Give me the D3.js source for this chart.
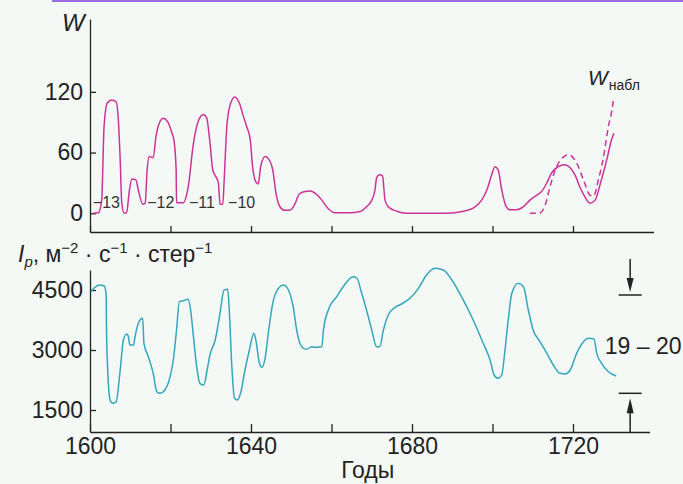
<!DOCTYPE html>
<html>
<head>
<meta charset="utf-8">
<script src="https://cdn.jsdelivr.net/npm/d3@7"></script>
<style>
  html, body { margin: 0; padding: 0; background: #f5f9f6; }
  svg { display: block; font-family: "Liberation Sans", Arial, sans-serif; }
  .axis path, .axis line { stroke: #222; stroke-width: 1.3; }
  .axis text { fill: #222; font-size: 23px; }
</style>
</head>
<body>
<svg id="chart" width="683" height="484"></svg>
<script>
// W (Wolf number), reconstructed
const wYears = [1600.8, 1602.1, 1602.9, 1603.5, 1604.3, 1605.4, 1606.5, 1607.0, 1607.5, 1607.9,
  1608.5, 1609.1, 1609.8, 1610.4, 1611.4, 1612.0, 1613.1, 1613.7, 1614.2, 1614.7,
  1615.7, 1616.4, 1617.2, 1618.2, 1619.2, 1620.3, 1620.9, 1621.4, 1621.5, 1623.2,
  1624.4, 1625.7, 1626.9, 1628.2, 1629.0, 1629.8, 1630.5, 1631.3, 1631.9, 1632.3,
  1633.0, 1633.3, 1634.0, 1634.8, 1636.0, 1637.1, 1638.1, 1638.9, 1639.8, 1640.4,
  1641.2, 1641.8, 1642.4, 1643.5, 1644.3, 1645.4, 1646.2, 1647.2, 1648.4, 1649.7,
  1650.9, 1652.0, 1653.4, 1654.7, 1656.2, 1657.6, 1659.2, 1660.9, 1664.6, 1667.1,
  1668.7, 1670.0, 1670.8, 1671.2, 1671.9, 1672.7, 1673.0, 1673.3, 1674.1, 1676.2,
  1678.7, 1688.6, 1692.8, 1695.2, 1697.3, 1698.6, 1699.8, 1700.6, 1701.4, 1702.3,
  1703.4, 1704.3, 1706.0, 1707.7, 1709.3, 1711.0, 1712.2, 1713.5, 1714.7, 1716.3,
  1718.0, 1719.3, 1720.5, 1721.7, 1723.0, 1724.2, 1725.5, 1726.7, 1728.4, 1729.6, 1730.2];
const wValues = [0, 0.5, 13, 86, 109, 112, 110, 95, 53, 10,
  0, 1, 23, 34, 33, 23, 9, 10, 43, 56,
  55, 76, 89, 94, 91, 80, 71, 43, 10.5, 10.5,
  26, 69, 91, 97.5, 94, 70, 43, 36, 30, 9,
  9, 30, 86, 107, 115, 109, 96, 86, 73, 46,
  31, 29, 46, 56, 54, 43, 20, 6.5, 3, 3,
  9, 19, 21.5, 22, 19, 13, 4.5, 0.5, 0.5, 1.7,
  6.5, 13, 23, 35, 38, 37, 25, 13, 6.5, 2,
  0, 0, 2, 5, 13, 23, 38, 46, 43, 23,
  6.5, 3.5, 3.5, 6.5, 13, 18, 21.5, 30, 40, 46,
  48, 45, 38, 26, 16, 10, 13, 28, 53, 73, 79];

// observed W (dashed)
const wObsYears = [1709.3, 1711.6, 1713.0, 1714.3, 1715.9, 1717.6, 1718.8, 1721.0, 1722.6, 1724.2, 1725.1, 1726.3, 1727.6, 1728.8, 1729.7, 1730.1];
const wObsValues = [0, 0, 7, 26.5, 46, 55.5, 58, 49, 33, 18, 17, 33, 56, 86, 102.5, 114];

// Ip, m^-2 s^-1 ster^-1
const ipYears = [1600.2, 1601.2, 1602.5, 1603.5, 1604.0, 1604.1, 1604.4, 1605.0, 1605.6, 1606.5,
  1607.5, 1608.3, 1609.1, 1609.5, 1609.9, 1610.8, 1611.2, 1612.0, 1613.1, 1613.4,
  1614.5, 1615.7, 1616.6, 1617.4, 1618.6, 1619.9, 1620.7, 1621.5, 1622.2, 1623.2,
  1624.4, 1625.0, 1625.7, 1626.5, 1627.3, 1628.3, 1629.1, 1629.8, 1631.1, 1632.3,
  1633.3, 1634.2, 1634.6, 1635.2, 1635.9, 1636.6, 1637.4, 1638.5, 1639.6, 1640.7,
  1641.2, 1642.1, 1642.7, 1643.5, 1644.4, 1645.4, 1646.8, 1648.0, 1649.3, 1650.4,
  1651.5, 1652.6, 1653.8, 1655.1, 1655.9, 1657.6, 1658.0, 1659.2, 1661.3, 1662.9,
  1665.4, 1666.3, 1667.5, 1668.7, 1670.0, 1671.2, 1672.0, 1672.9, 1674.1, 1675.8,
  1677.4, 1679.5, 1681.6, 1683.6, 1685.7, 1687.8, 1689.9, 1692.3, 1695.2, 1697.7,
  1699.4, 1700.4, 1701.4, 1702.3, 1703.1, 1704.0, 1704.8, 1706.4, 1707.7, 1708.9,
  1710.1, 1711.8, 1713.5, 1715.1, 1716.8, 1718.0, 1719.3, 1720.9, 1722.6, 1723.8,
  1725.2, 1725.9, 1727.1, 1728.8, 1730.7];
const ipValues = [4458, 4567, 4625, 4600, 4417, 3542, 2500, 1750, 1667, 1710,
  2500, 3250, 3400, 3350, 3125, 3125, 3333, 3667, 3792, 3167,
  2833, 2417, 1958, 1917, 2000, 2333, 2750, 3500, 4208, 4233,
  4267, 4000, 3333, 2583, 2167, 2125, 2500, 2875, 3250, 3917,
  4500, 4517, 4000, 2667, 1792, 1750, 1917, 2500, 3000, 3417,
  3250, 2667, 2567, 2792, 3500, 4167, 4542, 4625, 4500, 4125,
  3417, 3083, 3017, 3083, 3067, 3083, 3500, 4000, 4333, 4583,
  4833, 4800, 4417, 4000, 3500, 3083, 3083, 3500, 3875, 4067,
  4150, 4292, 4542, 4875, 5042, 5000, 4750, 4333, 3750, 3167,
  2750, 2375, 2292, 2375, 3000, 3833, 4417, 4667, 4583, 4000,
  3500, 3208, 2917, 2625, 2417, 2400, 2500, 2917, 3208, 3292,
  3275, 2917, 2667, 2458, 2350];

// cycle numbers
const cycleNames = ["\u221213", "\u221212", "\u221211", "\u221210"];
const cycleYears = [1600.7, 1614.2, 1624.6, 1634.3];
const cycleLevel = 5;

const wTicks = [0, 60, 120];
const ipTicks = [1500, 3000, 4500];
const yearTicks = [1600, 1620, 1640, 1660, 1680, 1700, 1720];

// 19-20 cycle band
const bandYear = 1734.2;
const bandHigh = 4375;
const bandLow = 1917;

const magenta = "#cc3399";
const cyan = "#33a6bd";
const ink = "#222";

const svg = d3.select("#chart");

// purple rule at the very top
svg.append("rect").attr("x", 52).attr("y", 0).attr("width", 631).attr("height", 2)
  .attr("fill", "#9d6be2");

const x = d3.scaleLinear().domain([1600, 1740]).range([90, 653.5]);
const xLow = x.copy().domain([1600, 1739]).range([90, x(1739)]);
const yW = d3.scaleLinear().domain([-18.5, 192]).range([232, 19]);
const yI = d3.scaleLinear().domain([950, 5000]).range([432, 270]);

// ---- top panel ----
svg.append("g").attr("class", "axis")
  .attr("transform", "translate(0,232)")
  .call(d3.axisBottom(x).tickValues(yearTicks).tickSizeInner(-6).tickSizeOuter(0).tickFormat(""));

svg.append("g").attr("class", "axis")
  .attr("transform", "translate(90,0)")
  .call(d3.axisLeft(yW).tickValues(wTicks).tickSizeInner(-6).tickSizeOuter(0).tickPadding(7)
    .tickFormat(d3.format("d")));

const wData = wYears.map((d, i) => [d, wValues[i]]);
const wObs = wObsYears.map((d, i) => [d, wObsValues[i]]);

const lineW = d3.line().x(d => x(d[0])).y(d => yW(d[1])).curve(d3.curveMonotoneX);

svg.append("path").datum(wData).attr("d", lineW)
  .attr("fill", "none").attr("stroke", magenta).attr("stroke-width", 1.5);

svg.append("path").datum(wObs).attr("d", lineW)
  .attr("fill", "none").attr("stroke", magenta).attr("stroke-width", 1.5)
  .attr("stroke-dasharray", "6,4");

svg.selectAll(".cycle").data(cycleNames).enter().append("text")
  .attr("class", "cycle")
  .attr("x", (d, i) => x(cycleYears[i]))
  .attr("y", yW(cycleLevel))
  .attr("fill", "#333").style("font-size", "16px")
  .text(d => d);

svg.append("text").attr("x", 62).attr("y", 31)
  .attr("fill", ink).style("font-size", "24px").style("font-style", "italic")
  .text("W");

const wObsLabel = svg.append("text").attr("x", 588).attr("y", 85)
  .attr("fill", ink).style("font-size", "21px");
wObsLabel.append("tspan").style("font-style", "italic").text("W");
wObsLabel.append("tspan").attr("dx", 1).attr("dy", 5).style("font-size", "14px").text("набл");

// ---- bottom panel ----
svg.append("g").attr("class", "axis")
  .attr("transform", "translate(0,432)")
  .call(d3.axisBottom(xLow).tickValues(yearTicks).tickSizeInner(-8).tickSizeOuter(0).tickPadding(6)
    .tickFormat(d => d % 40 === 0 ? d : ""));

svg.append("g").attr("class", "axis")
  .attr("transform", "translate(90,0)")
  .call(d3.axisLeft(yI).tickValues(ipTicks).tickSizeInner(-6).tickSizeOuter(0).tickPadding(7)
    .tickFormat(d3.format("d")));

const ipData = ipYears.map((d, i) => [d, ipValues[i]]);
svg.append("path").datum(ipData)
  .attr("d", d3.line().x(d => x(d[0])).y(d => yI(d[1])).curve(d3.curveMonotoneX))
  .attr("fill", "none").attr("stroke", cyan).attr("stroke-width", 1.5);

// axis title with sub/superscripts
const ipTitle = svg.append("text").attr("x", 18).attr("y", 262)
  .attr("fill", ink).style("font-size", "23px");
ipTitle.append("tspan").style("font-style", "italic").text("I");
ipTitle.append("tspan").attr("dy", 5).style("font-size", "15px").style("font-style", "italic").text("p");
ipTitle.append("tspan").attr("dy", -5).text(", м");
ipTitle.append("tspan").attr("dy", -9).style("font-size", "15px").text("\u22122");
ipTitle.append("tspan").attr("dy", 9).text(" · с");
ipTitle.append("tspan").attr("dy", -9).style("font-size", "15px").text("\u22121");
ipTitle.append("tspan").attr("dy", 9).text(" · стер");
ipTitle.append("tspan").attr("dy", -9).style("font-size", "15px").text("\u22121");

svg.append("text").attr("x", xLow(1727.9)).attr("y", yI(2900))
  .attr("fill", ink).style("font-size", "23px").text("19 – 20");

svg.append("text").attr("x", x(1669)).attr("y", 478)
  .attr("text-anchor", "middle").attr("fill", ink).style("font-size", "23px").text("Годы");

// band markers with arrows
const bx = x(bandYear);
const yHi = yI(bandHigh);
const yLo = yI(bandLow);
const mark = svg.append("g").attr("stroke", ink).attr("stroke-width", 1.5);
mark.append("line").attr("x1", bx - 11.5).attr("x2", bx + 11.5).attr("y1", yHi).attr("y2", yHi);
mark.append("line").attr("x1", bx - 11.5).attr("x2", bx + 11.5).attr("y1", yLo).attr("y2", yLo);
mark.append("line").attr("x1", bx).attr("x2", bx).attr("y1", yHi - 36).attr("y2", yHi - 14);
mark.append("line").attr("x1", bx).attr("x2", bx).attr("y1", yLo + 18).attr("y2", 432);
svg.append("path")
  .attr("d", `M${bx - 3.5},${yHi - 17}L${bx + 3.5},${yHi - 17}L${bx},${yHi - 3}Z`)
  .attr("fill", ink);
svg.append("path")
  .attr("d", `M${bx - 3.5},${yLo + 20}L${bx + 3.5},${yLo + 20}L${bx},${yLo + 5}Z`)
  .attr("fill", ink);
</script>
</body>
</html>
